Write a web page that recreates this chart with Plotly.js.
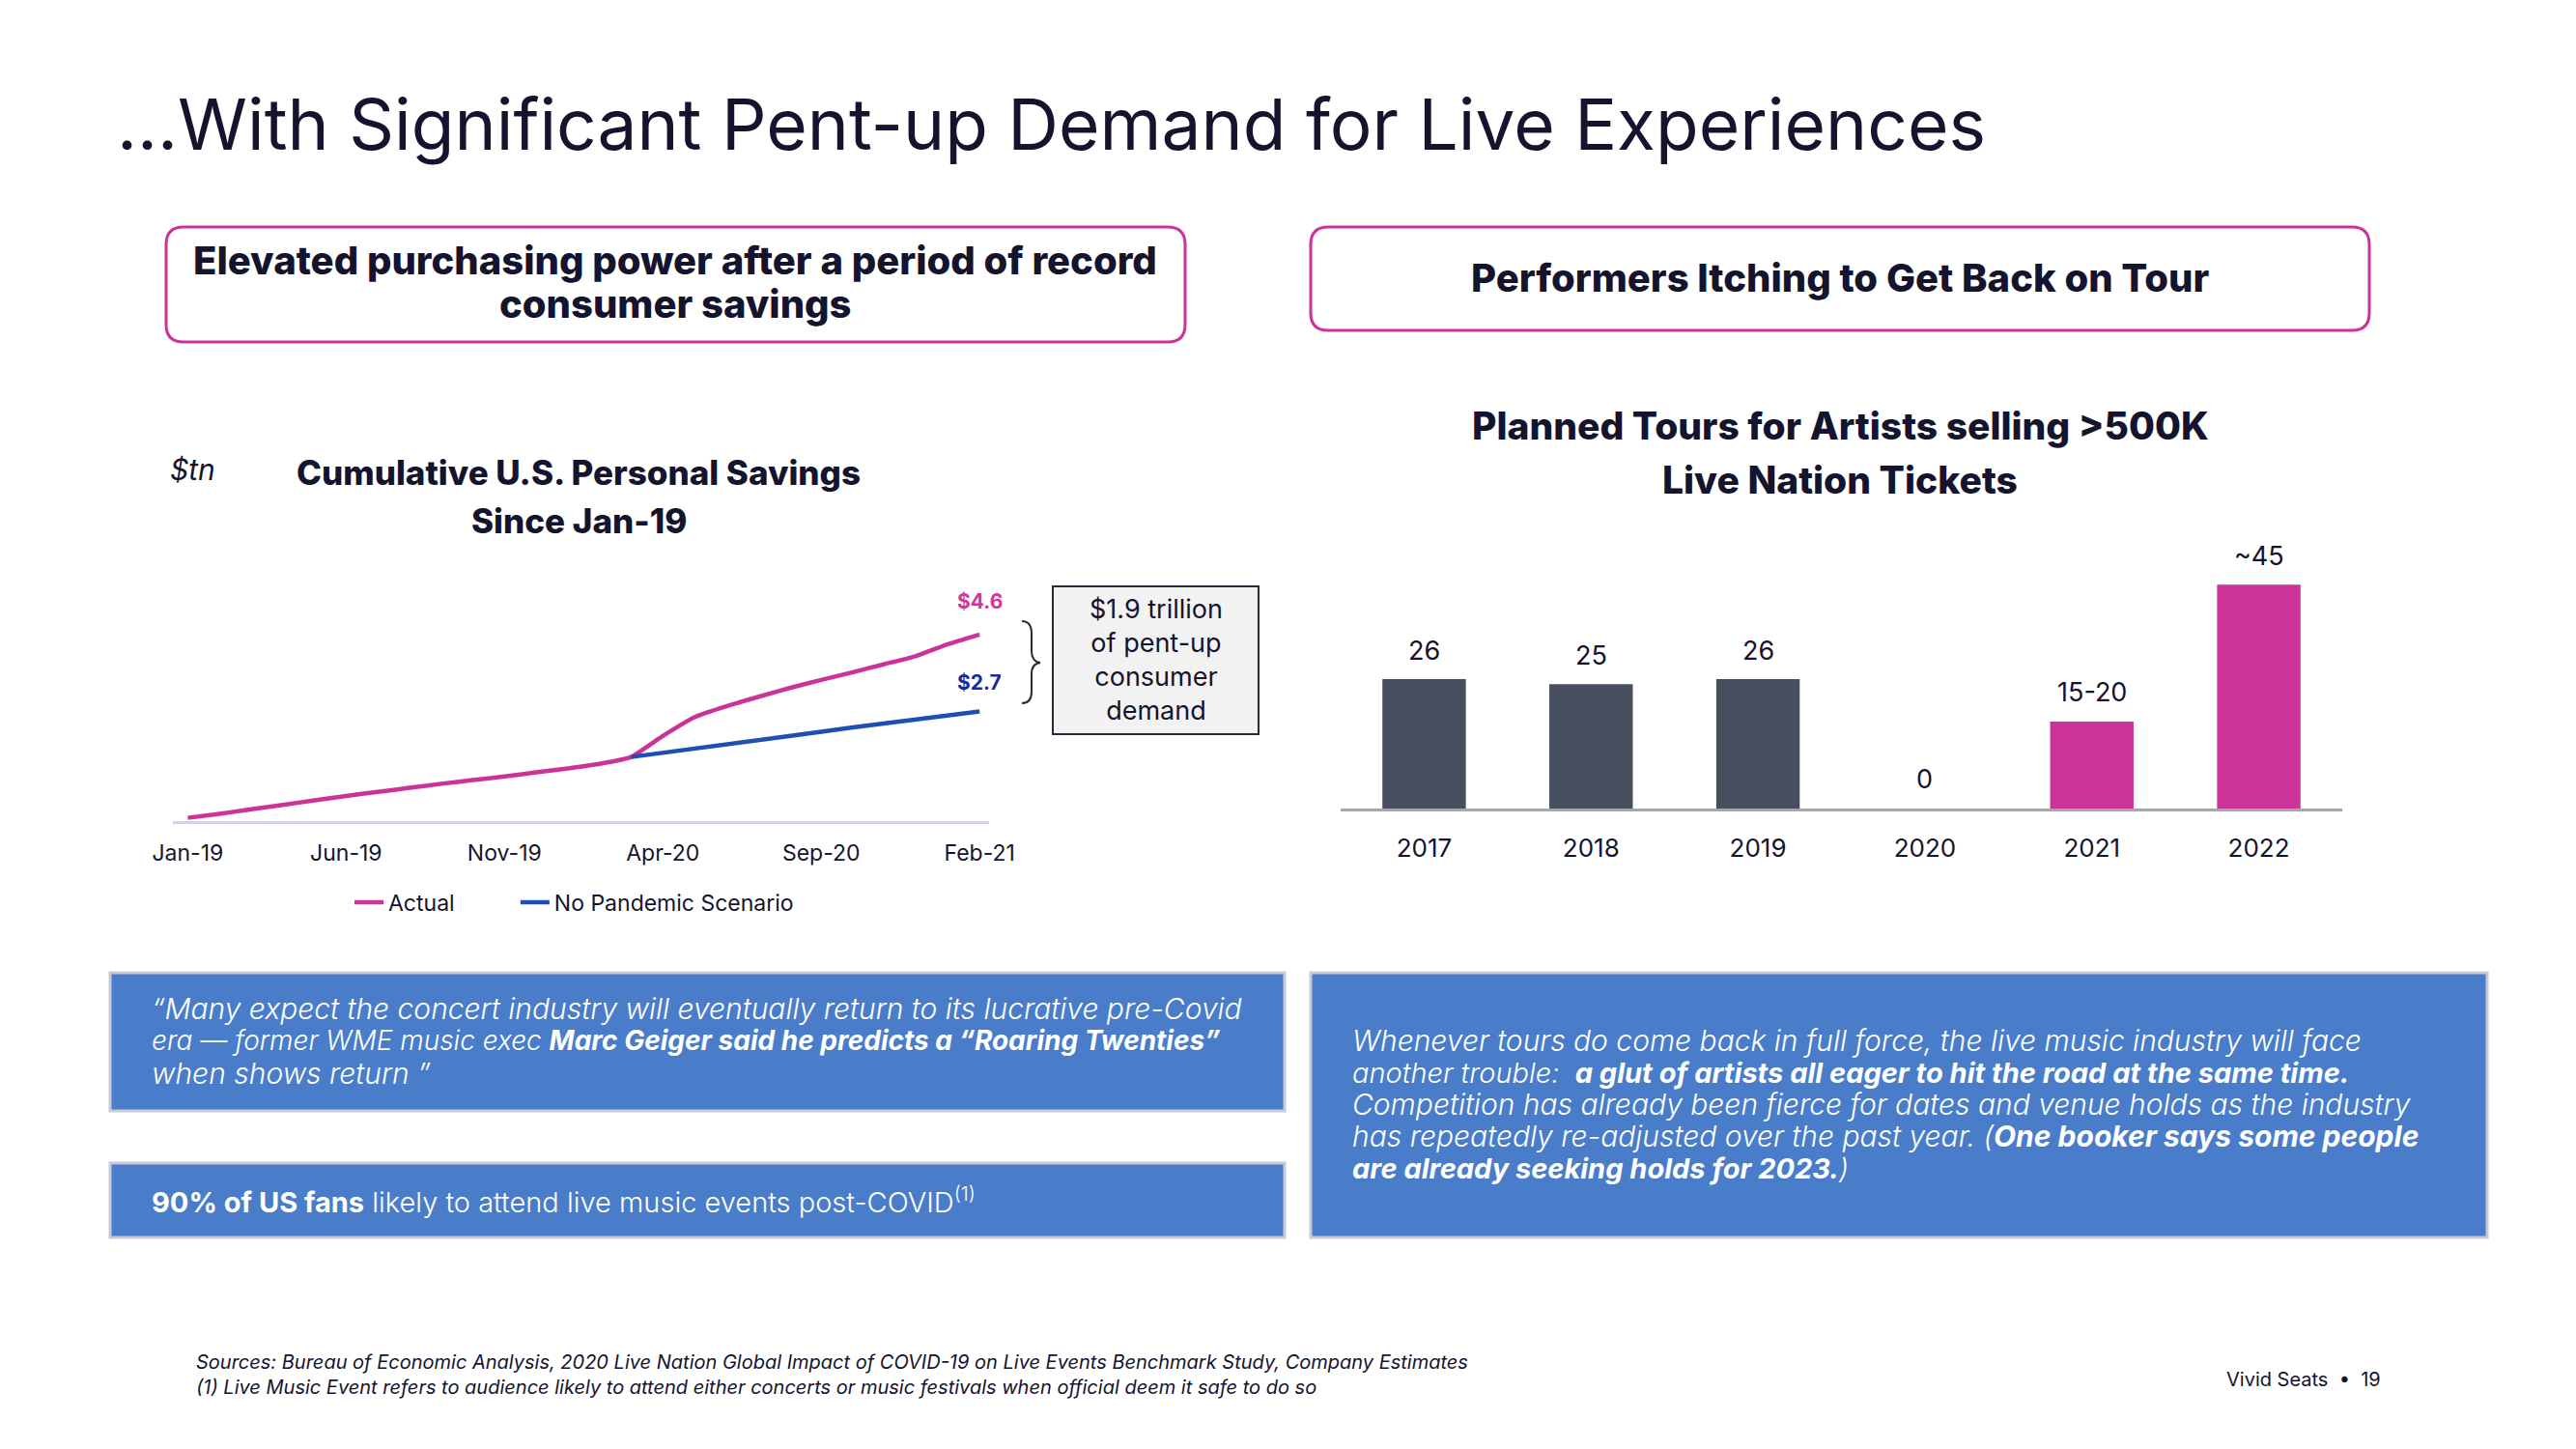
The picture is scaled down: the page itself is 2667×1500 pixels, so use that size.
<!DOCTYPE html>
<html>
<head>
<meta charset="utf-8">
<script src="https://cdn.plot.ly/plotly-3.0.1.min.js"></script>
<style>html,body{margin:0;padding:0;background:#fff;}#chart{width:2667px;height:1500px;}</style>
</head>
<body>
<div id="chart"></div>
<script>
// ---------- DATA ----------
const months = ['Jan-19','Feb-19','Mar-19','Apr-19','May-19','Jun-19','Jul-19','Aug-19','Sep-19','Oct-19','Nov-19','Dec-19',
  'Jan-20','Feb-20','Mar-20','Apr-20','May-20','Jun-20','Jul-20','Aug-20','Sep-20','Oct-20','Nov-20','Dec-20','Jan-21','Feb-21'];
const actualSavings = [0.08,0.18,0.29,0.40,0.51,0.62,0.72,0.82,0.92,1.01,1.10,1.20,1.30,1.41,1.58,2.10,2.56,2.83,3.06,3.28,3.48,3.67,3.87,4.07,4.36,4.60];
const noPandemicMonths = ['Mar-20','Apr-20','May-20','Jun-20','Jul-20','Aug-20','Sep-20','Oct-20','Nov-20','Dec-20','Jan-21','Feb-21'];
const noPandemicSavings = [1.58,1.68,1.79,1.89,1.99,2.10,2.20,2.31,2.41,2.51,2.61,2.70];
const savingsTicks = ['Jan-19','Jun-19','Nov-19','Apr-20','Sep-20','Feb-21'];
const seriesNames = ['Actual', 'No Pandemic Scenario'];
const endLabels = ['$4.6','$2.7'];

const tourYears = ['2017','2018','2019','2020','2021','2022'];
const tourCounts = [26,25,26,0,17.5,45];
const tourLabels = ['26','25','26','0','15-20','~45'];

// ---------- HELPERS ----------
const W = 2667, H = 1500;
const px = x => x / W;
const py = y => 1 - y / H;
const P = (x, y) => px(x) + ',' + py(y);
function roundRect(x0, y0, x1, y1, r) {
  return 'M' + P(x0 + r, y0) + ' L' + P(x1 - r, y0) + ' Q' + P(x1, y0) + ' ' + P(x1, y0 + r) +
    ' L' + P(x1, y1 - r) + ' Q' + P(x1, y1) + ' ' + P(x1 - r, y1) +
    ' L' + P(x0 + r, y1) + ' Q' + P(x0, y1) + ' ' + P(x0, y1 - r) +
    ' L' + P(x0, y0 + r) + ' Q' + P(x0, y0) + ' ' + P(x0 + r, y0) + ' Z';
}
const FONT = 'Inter, "Open Sans", sans-serif';
const DARK = '#14142e';
const PINK = '#cc3399';
const BLUE_LINE = '#1f4fb3';
const NBSP = '\u00a0';

// ---------- TRACES ----------
const traces = [
  { x: months, y: actualSavings, type: 'scatter', mode: 'lines', name: seriesNames[0] + NBSP.repeat(9),
    line: { color: PINK, width: 4.5, shape: 'spline', smoothing: 0.4 }, xaxis: 'x', yaxis: 'y' },
  { x: noPandemicMonths, y: noPandemicSavings, type: 'scatter', mode: 'lines', name: seriesNames[1],
    line: { color: BLUE_LINE, width: 4.5 }, xaxis: 'x', yaxis: 'y' },
  { x: tourYears, y: tourCounts, type: 'bar', showlegend: false, xaxis: 'x2', yaxis: 'y2',
    marker: { color: ['#474f5f','#474f5f','#474f5f','#474f5f',PINK,PINK] }, hoverinfo: 'skip' }
];

// ---------- ANNOTATIONS ----------
const ann = [];
function txt(x, y, text, size, opts) {
  ann.push(Object.assign({ xref: 'paper', yref: 'paper', x: px(x), y: py(y), text: text, showarrow: false,
    xanchor: 'center', yanchor: 'middle', font: { family: FONT, size: size, color: DARK } }, opts || {}));
}
const bold = (s) => ({ font: { family: FONT, size: s, color: DARK, weight: 800 } });
txt(119, 128, '...With Significant Pent-up Demand for Live Experiences', 73, { xanchor: 'left' });
txt(699, 269, 'Elevated purchasing power after a period of record', 40, bold(40));
txt(699, 315, 'consumer savings', 40, bold(40));
txt(1905, 287, 'Performers Itching to Get Back on Tour', 40, bold(40));

txt(174, 486, '$tn', 30, { xanchor: 'left', font: { family: FONT, size: 30, color: DARK, style: 'italic' } });
txt(599, 489, 'Cumulative U.S. Personal Savings', 35, bold(35));
txt(599, 539, 'Since Jan-19', 35, bold(35));

txt(1905, 440, 'Planned Tours for Artists selling >500K', 39, bold(39));
txt(1905, 496, 'Live Nation Tickets', 39, bold(39));

txt(1197, 683, '$1.9 trillion<br>of pent-up<br>consumer<br>demand', 27, { font: { family: FONT, size: 27, color: DARK } });

// data end labels
ann.push({ xref: 'x', yref: 'y', x: months.length - 1, y: actualSavings[actualSavings.length - 1], yshift: 34, text: '<b>' + endLabels[0] + '</b>',
  showarrow: false, font: { family: FONT, size: 21, color: '#d0399a' } });
ann.push({ xref: 'x', yref: 'y', x: months.length - 1, y: noPandemicSavings[noPandemicSavings.length - 1], yshift: 30, text: '<b>' + endLabels[1] + '</b>',
  showarrow: false, font: { family: FONT, size: 21, color: '#1a2aa0' } });

// bar value labels (x given as category index)
tourYears.forEach((yr, i) => {
  ann.push({ xref: 'x2', yref: 'y2', x: i, y: tourCounts[i], yshift: 30, yanchor: 'middle', text: tourLabels[i],
    showarrow: false, font: { family: FONT, size: 27, color: DARK } });
});

// blue box text
const wItal = (s) => ({ xanchor: 'left', align: 'left', font: { family: FONT, size: s, color: '#ffffff', style: 'italic', weight: 300 } });
txt(155, 1044, '“Many expect the concert industry will eventually return to its lucrative pre-Covid', 30, wItal(30));
txt(155, 1077, 'era — former WME music exec <b>Marc Geiger said he predicts a “Roaring Twenties”</b>', 28, wItal(28));
txt(155, 1111, 'when shows return ”', 30, wItal(30));
txt(155, 1242, '<b>90% of US fans</b> likely to attend live music events post-COVID<sup>(1)</sup>', 29,
  { xanchor: 'left', align: 'left', font: { family: FONT, size: 29, color: '#ffffff', weight: 300 } });
txt(1398, 1077, 'Whenever tours do come back in full force, the live music industry will face', 30, wItal(30));
txt(1398, 1110, 'another trouble:  <b>a glut of artists all eager to hit the road at the same time.</b>', 29, wItal(29));
txt(1398, 1143, 'Competition has already been fierce for dates and venue holds as the industry', 30, wItal(30));
txt(1398, 1176, 'has repeatedly re-adjusted over the past year. (<b>One booker says some people</b>', 30, wItal(30));
txt(1398, 1209, '<b>are already seeking holds for 2023.</b>)', 29, wItal(29));

// footer
const fItal = { xanchor: 'left', align: 'left', font: { family: FONT, size: 20, color: DARK, style: 'italic' } };
txt(201, 1410, 'Sources: Bureau of Economic Analysis, 2020 Live Nation Global Impact of COVID-19 on Live Events Benchmark Study, Company Estimates', 20, fItal);
txt(201, 1436, '(1) Live Music Event refers to audience likely to attend either concerts or music festivals when official deem it safe to do so', 20, fItal);
txt(2303, 1428, 'Vivid Seats  •  19', 20, { xanchor: 'left', font: { family: FONT, size: 20, color: DARK } });

// ---------- SHAPES ----------
const shapes = [
  { type: 'path', xref: 'paper', yref: 'paper', path: roundRect(172, 235, 1227, 354, 18), line: { color: PINK, width: 3 }, fillcolor: 'rgba(0,0,0,0)' },
  { type: 'path', xref: 'paper', yref: 'paper', path: roundRect(1357, 235, 2453, 342, 18), line: { color: PINK, width: 3 }, fillcolor: 'rgba(0,0,0,0)' },
  { type: 'rect', xref: 'paper', yref: 'paper', x0: px(1090), x1: px(1303), y0: py(607), y1: py(760), fillcolor: '#f2f2f2', line: { color: '#2a2a3a', width: 2 }, layer: 'below' },
  { type: 'path', xref: 'paper', yref: 'paper',
    path: 'M' + P(1058, 643) + ' Q' + P(1068, 643) + ' ' + P(1068, 656) + ' L' + P(1068, 674) + ' Q' + P(1068, 685) + ' ' + P(1077, 686) +
      ' Q' + P(1068, 687) + ' ' + P(1068, 698) + ' L' + P(1068, 716) + ' Q' + P(1068, 728) + ' ' + P(1058, 728),
    line: { color: '#2a2a3a', width: 2 } },
  { type: 'rect', xref: 'paper', yref: 'paper', x0: px(114), x1: px(1330), y0: py(1007), y1: py(1150), fillcolor: '#4a7dc9', line: { color: '#c5cad6', width: 3 }, layer: 'below' },
  { type: 'rect', xref: 'paper', yref: 'paper', x0: px(114), x1: px(1330), y0: py(1204), y1: py(1281), fillcolor: '#4a7dc9', line: { color: '#c5cad6', width: 3 }, layer: 'below' },
  { type: 'rect', xref: 'paper', yref: 'paper', x0: px(1357), x1: px(2575), y0: py(1007), y1: py(1281), fillcolor: '#4a7dc9', line: { color: '#c5cad6', width: 3 }, layer: 'below' }
];

// ---------- LAYOUT ----------
const layout = {
  width: W, height: H,
  margin: { l: 0, r: 0, t: 0, b: 0 },
  paper_bgcolor: '#ffffff', plot_bgcolor: 'rgba(0,0,0,0)',
  font: { family: FONT, color: DARK },
  showlegend: true,
  legend: { orientation: 'h', x: px(362), xanchor: 'left', y: py(934), yanchor: 'middle',
    font: { family: FONT, size: 23, color: DARK }, bgcolor: 'rgba(0,0,0,0)', traceorder: 'normal' },
  xaxis: { domain: [px(179), px(1024)], anchor: 'y', type: 'category', categoryorder: 'array', categoryarray: months,
    range: [-0.47, 25.3], tickmode: 'array', tickvals: savingsTicks, ticktext: savingsTicks,
    showline: true, linecolor: '#cfd2f0', linewidth: 3, showgrid: false, zeroline: false,
    ticks: 'outside', ticklen: 10, tickcolor: 'rgba(0,0,0,0)', tickfont: { family: FONT, size: 23, color: DARK }, fixedrange: true },
  yaxis: { domain: [py(850), py(600)], anchor: 'x', range: [0, 250 / 42], visible: false, fixedrange: true },
  xaxis2: { domain: [px(1388), px(2425)], anchor: 'y2', type: 'category', categoryorder: 'array', categoryarray: tourYears,
    range: [-0.5, 5.5], showline: true, linecolor: '#a6a6ad', linewidth: 3, showgrid: false, zeroline: false,
    ticks: 'outside', ticklen: 16, tickcolor: 'rgba(0,0,0,0)', tickfont: { family: FONT, size: 26, color: DARK }, fixedrange: true },
  yaxis2: { domain: [py(837), py(560)], anchor: 'x2', range: [0, 277 / 5.15], visible: false, fixedrange: true },
  bargap: 0.5,
  annotations: ann,
  shapes: shapes
};

Plotly.newPlot('chart', traces, layout, { displayModeBar: false, staticPlot: true });
</script>
</body>
</html>
